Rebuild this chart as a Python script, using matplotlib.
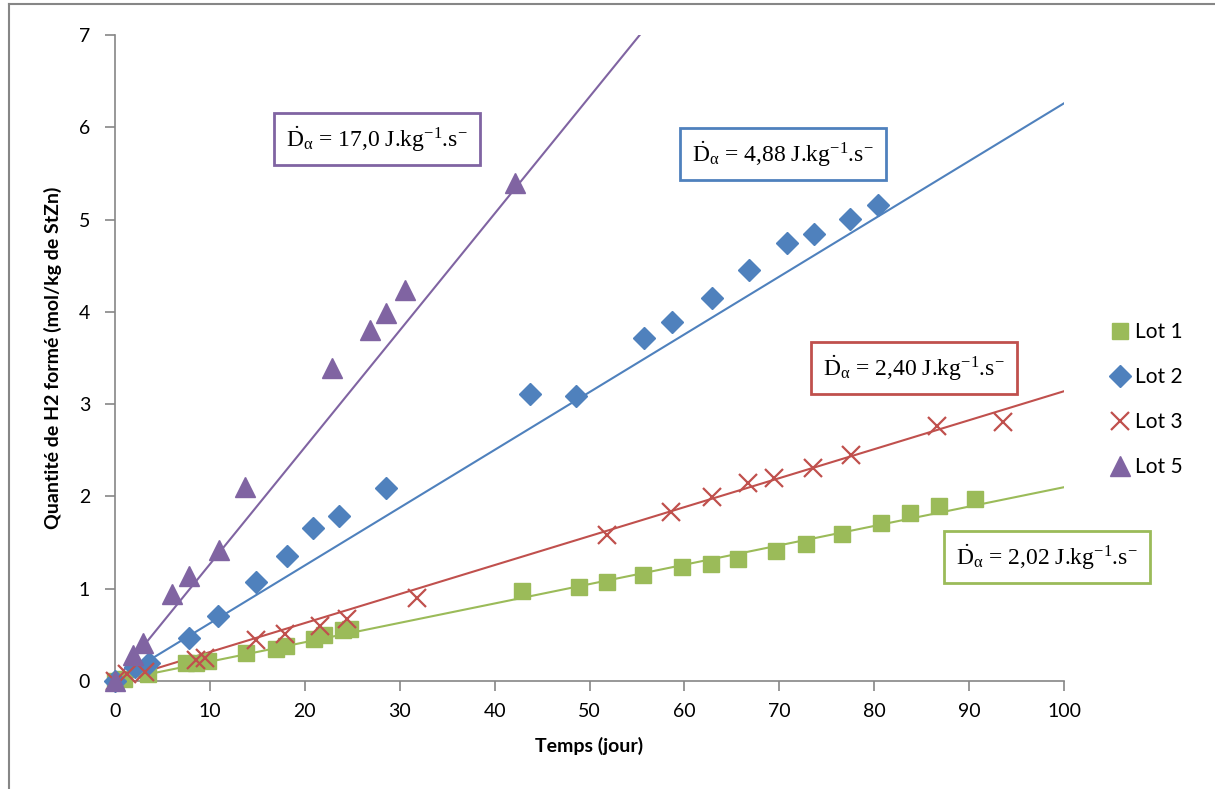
import numpy as np
import matplotlib
matplotlib.use("Agg")
import matplotlib.pyplot as plt
from matplotlib.lines import Line2D

plt.rcParams['font.family'] = ['Lato', 'DejaVu Sans']
plt.rcParams['mathtext.fontset'] = 'custom'
plt.rcParams['mathtext.rm'] = 'Liberation Serif'
plt.rcParams['mathtext.it'] = 'Liberation Serif:italic'
plt.rcParams['mathtext.bf'] = 'Liberation Serif:bold'

# Lot 1 (squares)
t1 = [0, 1, 3.5, 7.5, 8.5, 9.8, 13.8, 17, 18, 21, 22, 24, 24.8, 42.9, 48.9, 51.8, 55.6, 59.7, 62.8,
      65.6, 69.6, 72.8, 76.6, 80.7, 83.8, 86.8, 90.6]
q1 = [0, 0.02, 0.08, 0.19, 0.2, 0.22, 0.3, 0.35, 0.38, 0.46, 0.5, 0.55, 0.56, 0.97, 1.02, 1.07, 1.15,
      1.23, 1.27, 1.32, 1.41, 1.48, 1.59, 1.71, 1.82, 1.9, 1.97]
# Lot 2 (diamonds)
t2 = [0, 2.1, 3.6, 7.8, 10.9, 14.9, 18.1, 20.9, 23.6, 28.6, 43.7, 48.6, 55.7, 58.7, 62.9, 66.8,
      70.8, 73.7, 77.4, 80.4]
q2 = [0, 0.15, 0.2, 0.47, 0.7, 1.07, 1.35, 1.66, 1.79, 2.09, 3.11, 3.09, 3.72, 3.89, 4.15, 4.45,
      4.75, 4.84, 5.01, 5.16]
# Lot 3 (crosses)
t3 = [0, 1.3, 3.2, 8.5, 9.5, 14.9, 17.9, 21.6, 24.4, 31.8, 51.8, 58.6, 62.9, 66.7, 69.4, 73.6,
      77.6, 86.6, 93.6]
q3 = [0, 0.08, 0.1, 0.23, 0.25, 0.44, 0.51, 0.6, 0.67, 0.9, 1.58, 1.83, 1.99, 2.15, 2.2, 2.31,
      2.45, 2.76, 2.81]
# Lot 5 (triangles)
t5 = [0, 1.9, 3.0, 6.0, 7.8, 11.0, 13.7, 22.9, 26.9, 28.6, 30.6, 42.1]
q5 = [0, 0.28, 0.41, 0.94, 1.14, 1.42, 2.10, 3.39, 3.80, 3.99, 4.24, 5.40]

# fitted slopes (mol/kg per day), lines through origin
slopes = {'Lot 1': 0.0210, 'Lot 2': 0.0626, 'Lot 3': 0.0314, 'Lot 5': 0.1266}
labels = {'Lot 1': '2,02', 'Lot 2': '4,88', 'Lot 3': '2,40', 'Lot 5': '17,0'}

green, blue, red, purple = '#9BBB59', '#4F81BD', '#C0504D', '#8064A2'

fig = plt.figure(figsize=(12.15, 7.89), dpi=100)
ax = fig.add_axes([115/1215, 1 - 681/789, (1064-115)/1215, (681-35)/789])

xx = np.array([0, 100])
ax.plot(xx, slopes['Lot 1'] * xx, color=green, lw=1.5, zorder=2)
ax.plot(xx, slopes['Lot 2'] * xx, color=blue, lw=1.5, zorder=2)
ax.plot(xx, slopes['Lot 3'] * xx, color=red, lw=1.5, zorder=2)
ax.plot(xx, slopes['Lot 5'] * xx, color=purple, lw=1.5, zorder=2)

ax.plot(t1, q1, 's', color=green, ms=12, mec=green, label='Lot 1', zorder=3, clip_on=False)
ax.plot(t2, q2, 'D', color=blue, ms=11, mec=blue, label='Lot 2', zorder=3, clip_on=False)
ax.plot(t3, q3, 'x', color=red, ms=13, mew=1.6, label='Lot 3', zorder=3, clip_on=False)
ax.plot(t5, q5, '^', color=purple, ms=14, mec=purple, label='Lot 5', zorder=3, clip_on=False)

ax.set_xlim(0, 100)
ax.set_ylim(0, 7)
ax.set_xticks(range(0, 101, 10))
ax.set_yticks(range(0, 8))
for s in ['top', 'right']:
    ax.spines[s].set_visible(False)
for s in ['left', 'bottom']:
    ax.spines[s].set_color('#868686')
    ax.spines[s].set_linewidth(1.2)
ax.tick_params(direction='out', length=7, width=1.2, color='#868686', labelsize=14)
ax.tick_params(axis='x', pad=9)
ax.tick_params(axis='y', pad=11)
ax.set_xlabel('Temps (jour)', fontweight='bold', fontsize=14, labelpad=12)
ax.set_ylabel('Quantité de H2 formé (mol/kg de StZn)', fontweight='bold', fontsize=14, labelpad=12)

leg = ax.legend(loc='center left', bbox_to_anchor=(1.0, 0.435), frameon=False, fontsize=15,
                handlelength=0.8, labelspacing=1.2, handletextpad=0.3, borderaxespad=1.9)

def box(x, y, key, col):
    txt = r'$\dot{\mathrm{D}}_{\mathrm{α}}$ = ' + labels[key] + r' J.kg$^{\mathrm{-1}}$.s$^{\mathrm{-}}$'
    ax.text(x, y, txt, fontsize=17, family='Liberation Serif', ha='center', va='center',
            bbox=dict(boxstyle='square,pad=0.5', fc='white', ec=col, lw=2), zorder=5,
            transform=fig.transFigure)

box(377/1215, 1 - 139/789, 'Lot 5', purple)
box(783/1215, 1 - 154/789, 'Lot 2', blue)
box(914/1215, 1 - 368/789, 'Lot 3', red)
box(1047/1215, 1 - 557/789, 'Lot 1', green)

# chart-area frame (only left and top edges visible)
fig.add_artist(Line2D([9/1215, 9/1215], [0, 1 - 4/789], transform=fig.transFigure,
                      color='#868686', lw=1.5))
fig.add_artist(Line2D([9/1215, 1], [1 - 4/789, 1 - 4/789], transform=fig.transFigure,
                      color='#868686', lw=1.5))

fig.savefig('out.png', dpi=100)
